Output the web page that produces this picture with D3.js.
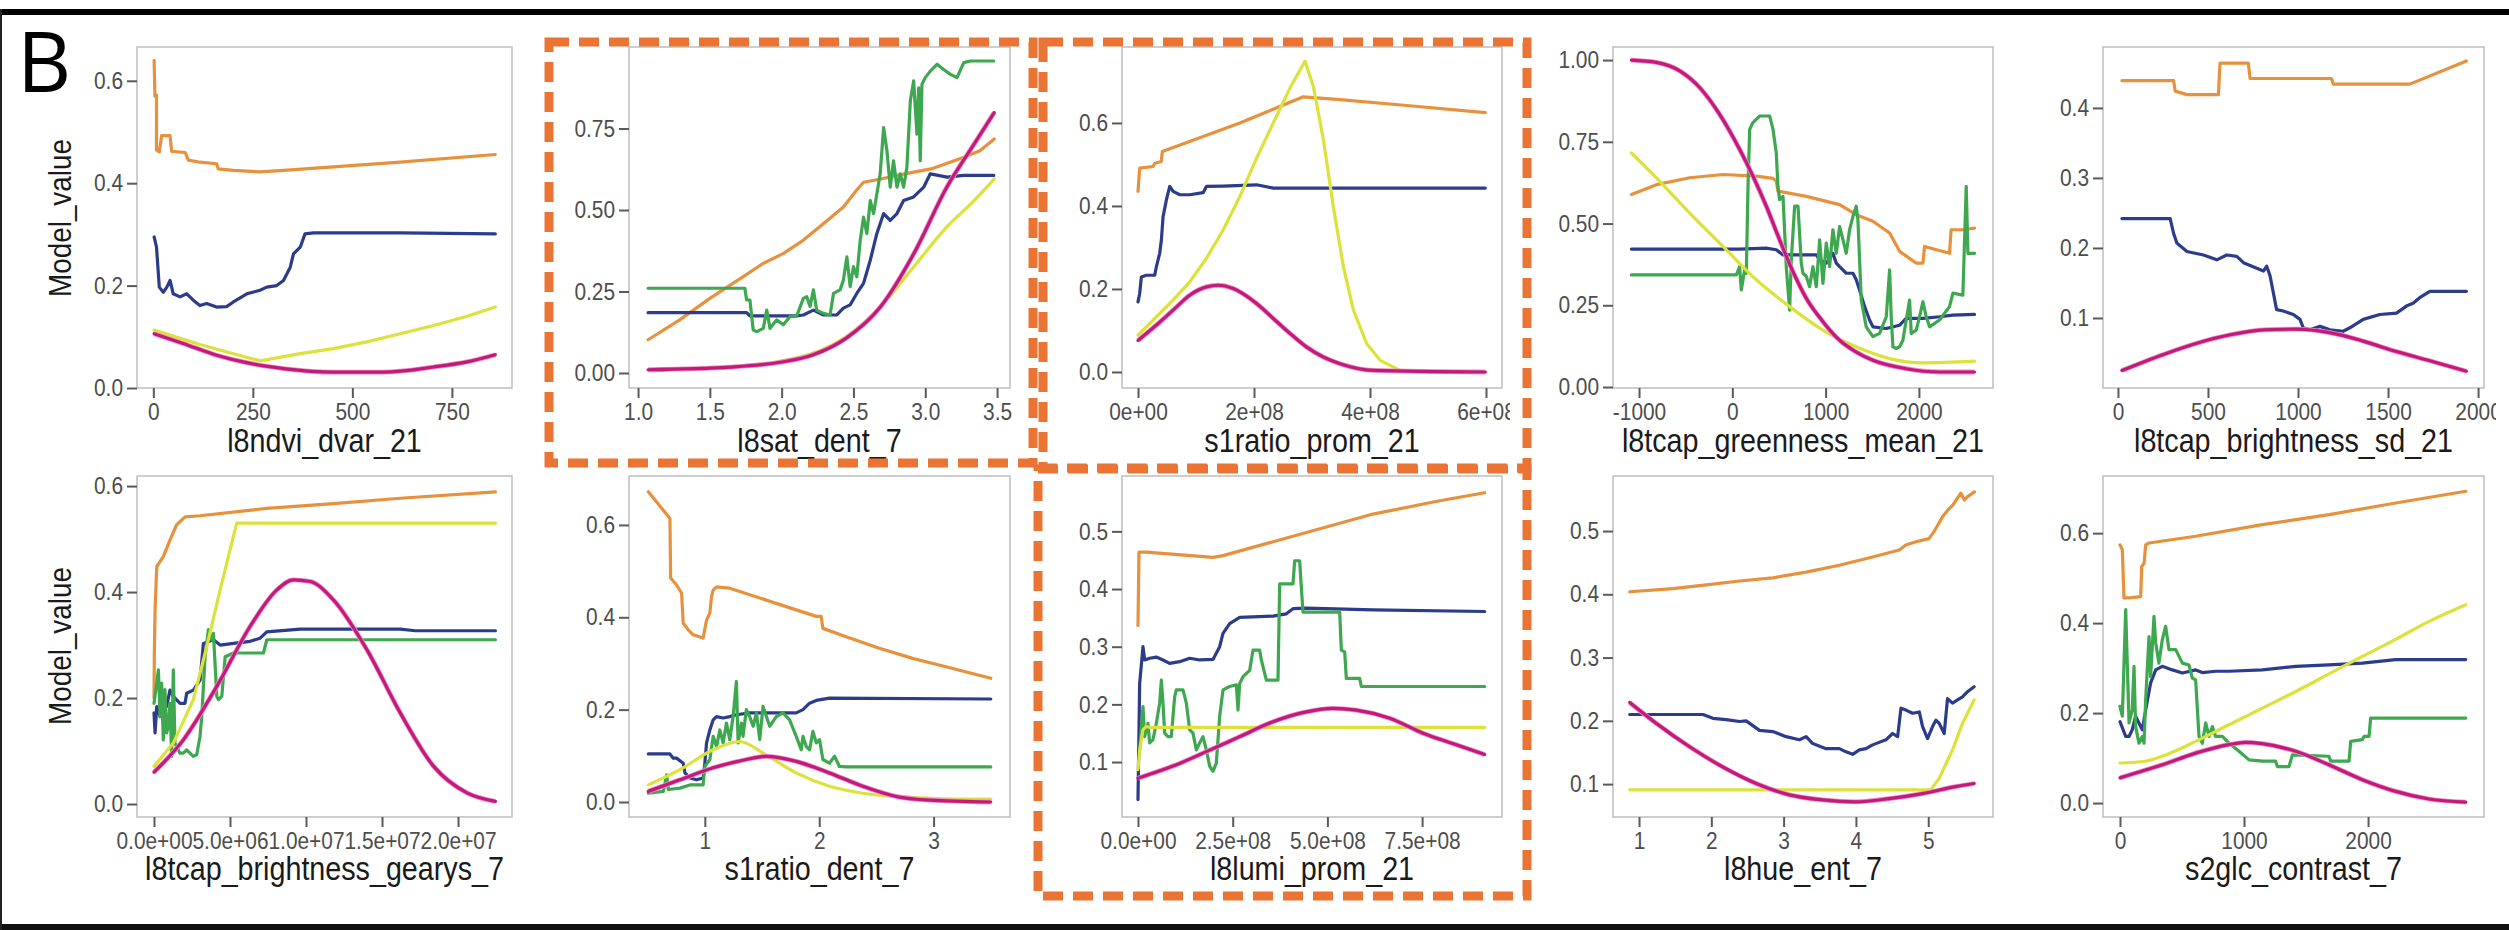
<!DOCTYPE html>
<html><head><meta charset="utf-8">
<script src="https://cdn.jsdelivr.net/npm/d3@7"></script>
<style>html,body{margin:0;padding:0;background:#fff;} svg{display:block;}</style>
</head><body><svg id="chart" width="2509" height="930"></svg>
<script>
// ---------------- data ----------------
const panelTitles = ["l8ndvi_dvar_21","l8sat_dent_7","s1ratio_prom_21","l8tcap_greenness_mean_21","l8tcap_brightness_sd_21",
  "l8tcap_brightness_gearys_7","s1ratio_dent_7","l8lumi_prom_21","l8hue_ent_7","s2glc_contrast_7"];

const xTickVals = [[0,250,500,750],[1.0,1.5,2.0,2.5,3.0,3.5],[0,2e8,4e8,6e8],[-1000,0,1000,2000],[0,500,1000,1500,2000],
  [0,5e6,1e7,1.5e7,2e7],[1,2,3],[0,2.5e8,5e8,7.5e8],[1,2,3,4,5],[0,1000,2000]];
const xTickLabels = [["0","250","500","750"],["1.0","1.5","2.0","2.5","3.0","3.5"],["0e+00","2e+08","4e+08","6e+08"],
  ["-1000","0","1000","2000"],["0","500","1000","1500","2000"],
  ["0.0e+00","5.0e+06","1.0e+07","1.5e+07","2.0e+07"],["1","2","3"],["0.0e+00","2.5e+08","5.0e+08","7.5e+08"],
  ["1","2","3","4","5"],["0","1000","2000"]];
const yTickVals = [[0,0.2,0.4,0.6],[0,0.25,0.5,0.75],[0,0.2,0.4,0.6],[0,0.25,0.5,0.75,1.0],[0.1,0.2,0.3,0.4],
  [0,0.2,0.4,0.6],[0,0.2,0.4,0.6],[0.1,0.2,0.3,0.4,0.5],[0.1,0.2,0.3,0.4,0.5],[0,0.2,0.4,0.6]];
const yTickLabels = [["0.0","0.2","0.4","0.6"],["0.00","0.25","0.50","0.75"],["0.0","0.2","0.4","0.6"],
  ["0.00","0.25","0.50","0.75","1.00"],["0.1","0.2","0.3","0.4"],["0.0","0.2","0.4","0.6"],["0.0","0.2","0.4","0.6"],
  ["0.1","0.2","0.3","0.4","0.5"],["0.1","0.2","0.3","0.4","0.5"],["0.0","0.2","0.4","0.6"]];
const xDomains = [[-41,901],[0.937,3.59],[-0.276e8,6.276e8],[-1279,2794],[-83,2033],
  [-1.118e6,23.55e6],[0.337,3.668],[-0.422e8,9.609e8],[0.64,5.896],[-137,2935]];
const yDomains = [[0,0.666],[-0.046,1.0],[-0.0386,0.783],[-0.003,1.04],[0,0.487],
  [-0.0245,0.619],[-0.0325,0.706],[0.0047,0.596],[0.048,0.587],[-0.031,0.727]];

// Panel 1
const p1_orange = [[2,0.64],[4,0.57],[8,0.572],[8,0.465],[15,0.461],[21,0.493],[42,0.493],[46,0.462],[80,0.46],[88,0.445],[117,0.441],[159,0.438],[163,0.428],[201,0.425],[268,0.422],[327,0.425],[452,0.432],[620,0.441],[859,0.456]];
const p1_blue = [[2,0.295],[8,0.275],[15,0.197],[25,0.187],[34,0.197],[42,0.21],[50,0.184],[67,0.178],[84,0.184],[101,0.171],[117,0.161],[134,0.165],[159,0.158],[184,0.159],[201,0.168],[235,0.184],[268,0.191],[285,0.197],[310,0.2],[327,0.21],[344,0.236],[352,0.262],[369,0.275],[381,0.301],[402,0.303],[452,0.303],[620,0.303],[859,0.301]];
const p1_yellow = [[2,0.113],[117,0.085],[201,0.067],[268,0.053],[369,0.067],[452,0.077],[536,0.09],[620,0.106],[704,0.122],[788,0.14],[859,0.158]];
const p1_magenta = [[2,0.106],[75,0.087],[159,0.064],[243,0.048],[327,0.038],[452,0.031],[578,0.031],[704,0.041],[788,0.051],[859,0.065]];
// Panel 2
const p2_orange = [[1.07,0.102],[1.29,0.163],[1.50,0.229],[1.73,0.295],[1.87,0.336],[2.01,0.366],[2.15,0.407],[2.29,0.458],[2.43,0.509],[2.52,0.56],[2.57,0.585],[2.69,0.595],[2.80,0.606],[3.04,0.626],[3.27,0.662],[3.38,0.682],[3.48,0.718]];
const p2_blue = [[1.07,0.185],[1.756,0.185],[1.779,0.175],[1.872,0.175],[2.105,0.175],[2.151,0.178],[2.221,0.193],[2.291,0.178],[2.384,0.178],[2.43,0.199],[2.477,0.209],[2.523,0.244],[2.57,0.275],[2.617,0.346],[2.663,0.428],[2.71,0.489],[2.756,0.468],[2.803,0.489],[2.849,0.529],[2.919,0.54],[2.989,0.57],[3.035,0.611],[3.152,0.601],[3.268,0.606],[3.477,0.606]];
const p2_green = [[1.07,0.26],[1.744,0.26],[1.756,0.224],[1.779,0.224],[1.802,0.132],[1.826,0.127],[1.872,0.137],[1.896,0.193],[1.919,0.137],[1.965,0.163],[2.012,0.148],[2.058,0.173],[2.105,0.175],[2.151,0.229],[2.175,0.234],[2.198,0.204],[2.221,0.255],[2.244,0.193],[2.291,0.183],[2.337,0.178],[2.361,0.244],[2.407,0.255],[2.43,0.285],[2.454,0.356],[2.477,0.265],[2.5,0.326],[2.523,0.295],[2.547,0.407],[2.57,0.478],[2.593,0.428],[2.617,0.529],[2.64,0.489],[2.686,0.611],[2.71,0.753],[2.733,0.682],[2.756,0.57],[2.779,0.651],[2.803,0.57],[2.826,0.611],[2.849,0.57],[2.872,0.631],[2.896,0.835],[2.919,0.896],[2.942,0.733],[2.954,0.875],[2.965,0.651],[2.977,0.886],[3.0,0.906],[3.035,0.926],[3.082,0.947],[3.128,0.931],[3.175,0.916],[3.221,0.906],[3.268,0.952],[3.314,0.957],[3.477,0.957]];
const p2_yellow = [[1.07,0.01],[1.64,0.02],[1.99,0.036],[2.22,0.061],[2.45,0.112],[2.69,0.204],[2.92,0.326],[3.15,0.448],[3.34,0.529],[3.48,0.595]];
const p2_magenta = [[1.07,0.01],[1.64,0.018],[1.99,0.033],[2.22,0.056],[2.45,0.107],[2.69,0.204],[2.92,0.366],[3.15,0.57],[3.34,0.702],[3.48,0.799]];
// Panel 3
const p3_orange = [[0,0.435],[0.029e8,0.491],[0.26e8,0.495],[0.29e8,0.503],[0.40e8,0.507],[0.42e8,0.531],[0.49e8,0.535],[1.756e8,0.6],[2.85e8,0.663],[3.484e8,0.656],[4.635e8,0.642],[5.988e8,0.625]];
const p3_blue = [[0,0.169],[0.029e8,0.189],[0.058e8,0.229],[0.144e8,0.233],[0.288e8,0.233],[0.317e8,0.254],[0.374e8,0.286],[0.403e8,0.318],[0.432e8,0.374],[0.49e8,0.415],[0.547e8,0.447],[0.605e8,0.435],[0.72e8,0.427],[0.892e8,0.427],[1.123e8,0.432],[1.18e8,0.447],[1.468e8,0.448],[2.044e8,0.451],[2.332e8,0.443],[5.988e8,0.443]];
const p3_yellow = [[0,0.089],[0.605e8,0.173],[0.892e8,0.217],[1.18e8,0.274],[1.468e8,0.342],[1.756e8,0.423],[2.044e8,0.515],[2.332e8,0.6],[2.62e8,0.684],[2.879e8,0.749],[3.023e8,0.688],[3.196e8,0.56],[3.368e8,0.398],[3.541e8,0.254],[3.714e8,0.149],[3.944e8,0.068],[4.175e8,0.028],[4.52e8,0.004],[5.988e8,0.0]];
const p3_magenta = [[0,0.076],[0.317e8,0.113],[0.605e8,0.149],[0.892e8,0.185],[1.18e8,0.205],[1.382e8,0.209],[1.641e8,0.201],[2.044e8,0.165],[2.332e8,0.129],[2.62e8,0.093],[2.908e8,0.06],[3.196e8,0.036],[3.484e8,0.02],[4.06e8,0.004],[5.988e8,0.0]];
// Panel 4
const p4_orange = [[-1082,0.589],[-814,0.619],[-457,0.64],[-100,0.65],[257,0.645],[436,0.638],[471,0.63],[489,0.599],[793,0.583],[1150,0.558],[1328,0.527],[1507,0.507],[1686,0.471],[1793,0.415],[1971,0.379],[2043,0.379],[2060,0.43],[2328,0.409],[2345,0.481],[2471,0.481],[2596,0.486]];
const p4_blue = [[-1082,0.422],[78,0.422],[364,0.425],[471,0.42],[543,0.404],[900,0.404],[936,0.389],[1007,0.379],[1043,0.394],[1078,0.409],[1114,0.379],[1150,0.368],[1221,0.348],[1293,0.348],[1328,0.328],[1364,0.297],[1418,0.246],[1471,0.205],[1507,0.184],[1650,0.179],[1793,0.189],[1864,0.21],[2043,0.21],[2221,0.215],[2364,0.22],[2596,0.222]];
const p4_green = [[-1082,0.343],[43,0.343],[78,0.368],[96,0.297],[132,0.358],[150,0.348],[168,0.614],[186,0.788],[221,0.809],[293,0.829],[400,0.829],[436,0.788],[471,0.716],[489,0.614],[507,0.573],[543,0.583],[578,0.368],[614,0.235],[632,0.389],[668,0.553],[704,0.553],[739,0.379],[757,0.348],[793,0.338],[828,0.307],[864,0.368],[900,0.307],[936,0.45],[971,0.317],[1007,0.44],[1043,0.368],[1078,0.481],[1114,0.409],[1150,0.491],[1186,0.45],[1221,0.409],[1257,0.481],[1293,0.522],[1328,0.553],[1346,0.512],[1382,0.266],[1435,0.184],[1507,0.154],[1578,0.164],[1650,0.215],[1686,0.358],[1703,0.215],[1721,0.123],[1757,0.118],[1793,0.123],[1828,0.143],[1900,0.266],[1918,0.164],[1971,0.174],[2007,0.215],[2043,0.261],[2078,0.215],[2114,0.184],[2221,0.205],[2328,0.246],[2364,0.287],[2471,0.281],[2507,0.614],[2525,0.409],[2596,0.409]];
const p4_yellow = [[-1082,0.716],[-814,0.64],[-457,0.532],[-100,0.43],[257,0.328],[614,0.246],[971,0.174],[1328,0.123],[1686,0.087],[2043,0.074],[2596,0.079]];
const p4_magenta = [[-1082,1.0],[-814,0.993],[-564,0.967],[-350,0.916],[-136,0.834],[78,0.727],[221,0.645],[364,0.553],[507,0.45],[650,0.353],[793,0.271],[971,0.2],[1150,0.143],[1328,0.107],[1507,0.082],[1864,0.056],[2221,0.046],[2596,0.046]];
// Panel 5
const p5_orange = [[22,0.439],[309,0.439],[318,0.424],[383,0.419],[558,0.419],[567,0.464],[724,0.464],[734,0.442],[1186,0.442],[1196,0.434],[1621,0.434],[1935,0.467]];
const p5_blue = [[22,0.242],[290,0.242],[309,0.221],[327,0.207],[383,0.195],[475,0.19],[549,0.183],[604,0.19],[660,0.188],[697,0.179],[771,0.171],[808,0.167],[826,0.174],[845,0.16],[863,0.136],[881,0.112],[918,0.11],[974,0.105],[1011,0.098],[1029,0.086],[1066,0.083],[1122,0.088],[1177,0.083],[1251,0.081],[1288,0.086],[1362,0.098],[1454,0.105],[1547,0.107],[1602,0.117],[1639,0.121],[1676,0.129],[1732,0.138],[1935,0.138]];
const p5_magenta = [[22,0.025],[253,0.048],[438,0.064],[623,0.076],[808,0.083],[992,0.084],[1177,0.079],[1362,0.067],[1547,0.052],[1732,0.039],[1935,0.024]];
// Panel 6
const p6_orange = [[0,0.2],[0.002e7,0.278],[0.007e7,0.366],[0.018e7,0.448],[0.061e7,0.467],[0.105e7,0.498],[0.149e7,0.527],[0.204e7,0.542],[0.303e7,0.544],[0.742e7,0.558],[1.181e7,0.567],[1.62e7,0.577],[2.246e7,0.589]];
const p6_blue = [[0,0.172],[0.007e7,0.134],[0.018e7,0.184],[0.04e7,0.165],[0.061e7,0.19],[0.083e7,0.184],[0.105e7,0.215],[0.127e7,0.203],[0.171e7,0.19],[0.204e7,0.19],[0.215e7,0.209],[0.259e7,0.215],[0.303e7,0.234],[0.325e7,0.303],[0.391e7,0.31],[0.435e7,0.3],[0.523e7,0.303],[0.632e7,0.307],[0.698e7,0.313],[0.742e7,0.325],[0.962e7,0.33],[1.62e7,0.33],[1.719e7,0.327],[2.246e7,0.327]];
const p6_green = [[0,0.19],[0.018e7,0.228],[0.029e7,0.253],[0.04e7,0.165],[0.05e7,0.228],[0.061e7,0.121],[0.072e7,0.216],[0.083e7,0.134],[0.094e7,0.146],[0.105e7,0.19],[0.116e7,0.09],[0.127e7,0.253],[0.138e7,0.115],[0.16e7,0.102],[0.171e7,0.096],[0.193e7,0.096],[0.215e7,0.102],[0.237e7,0.096],[0.259e7,0.09],[0.281e7,0.093],[0.303e7,0.128],[0.314e7,0.165],[0.336e7,0.278],[0.358e7,0.329],[0.38e7,0.31],[0.391e7,0.322],[0.413e7,0.203],[0.424e7,0.197],[0.446e7,0.203],[0.468e7,0.278],[0.523e7,0.285],[0.72e7,0.285],[0.742e7,0.31],[2.246e7,0.31]];
const p6_yellow = [[0,0.071],[0.127e7,0.115],[0.259e7,0.197],[0.347e7,0.297],[0.435e7,0.404],[0.544e7,0.53],[2.246e7,0.53]];
const p6_magenta = [[0,0.06],[0.193e7,0.121],[0.413e7,0.222],[0.632e7,0.335],[0.808e7,0.404],[0.918e7,0.423],[1.027e7,0.42],[1.181e7,0.385],[1.401e7,0.291],[1.62e7,0.172],[1.84e7,0.071],[2.059e7,0.021],[2.246e7,0.005]];
// Panel 7
const p7_orange = [[0.506,0.672],[0.695,0.614],[0.701,0.485],[0.753,0.47],[0.797,0.452],[0.811,0.387],[0.855,0.373],[0.898,0.362],[0.985,0.355],[1.015,0.394],[1.044,0.409],[1.058,0.445],[1.073,0.459],[1.102,0.466],[1.218,0.463],[1.974,0.402],[2.017,0.402],[2.032,0.376],[2.235,0.358],[2.526,0.333],[2.817,0.311],[3.108,0.293],[3.5,0.268]];
const p7_blue = [[0.506,0.104],[0.695,0.104],[0.724,0.095],[0.753,0.095],[0.811,0.084],[0.826,0.063],[0.869,0.052],[0.927,0.048],[0.985,0.052],[1.0,0.084],[1.015,0.128],[1.044,0.156],[1.073,0.178],[1.102,0.185],[1.16,0.182],[1.218,0.185],[1.276,0.189],[1.392,0.193],[1.509,0.193],[1.799,0.193],[1.858,0.2],[1.916,0.214],[1.974,0.22],[2.09,0.225],[3.5,0.223]];
const p7_green = [[0.506,0.019],[0.637,0.023],[0.666,0.059],[0.68,0.027],[0.782,0.03],[0.869,0.037],[0.985,0.037],[1.0,0.077],[1.044,0.092],[1.073,0.142],[1.102,0.12],[1.131,0.156],[1.16,0.128],[1.189,0.171],[1.218,0.135],[1.247,0.185],[1.276,0.261],[1.291,0.128],[1.32,0.171],[1.334,0.142],[1.363,0.2],[1.392,0.185],[1.422,0.164],[1.451,0.193],[1.48,0.135],[1.509,0.207],[1.567,0.164],[1.625,0.185],[1.683,0.193],[1.741,0.178],[1.799,0.142],[1.843,0.113],[1.858,0.142],[1.887,0.12],[1.916,0.113],[1.945,0.153],[1.974,0.128],[2.003,0.135],[2.032,0.092],[2.09,0.084],[2.134,0.099],[2.177,0.077],[2.235,0.076],[3.5,0.076]];
const p7_yellow = [[0.506,0.037],[0.782,0.07],[1.073,0.113],[1.305,0.131],[1.509,0.106],[1.799,0.063],[2.09,0.034],[2.381,0.019],[2.672,0.012],[3.108,0.007],[3.5,0.006]];
const p7_magenta = [[0.506,0.023],[0.782,0.048],[1.073,0.074],[1.363,0.092],[1.538,0.099],[1.799,0.088],[2.09,0.063],[2.381,0.034],[2.672,0.012],[2.963,0.004],[3.5,0.0]];
// Panel 8
const p8_orange = [[0,0.337],[0.026e8,0.464],[0.22e8,0.464],[1.98e8,0.455],[2.244e8,0.458],[4.444e8,0.498],[6.204e8,0.53],[7.964e8,0.553],[9.152e8,0.567]];
const p8_blue = [[0,0.035],[0.044e8,0.236],[0.132e8,0.3],[0.176e8,0.277],[0.308e8,0.28],[0.484e8,0.282],[0.66e8,0.277],[0.836e8,0.271],[1.1e8,0.274],[1.364e8,0.28],[1.628e8,0.277],[1.98e8,0.278],[2.156e8,0.3],[2.244e8,0.323],[2.42e8,0.34],[2.684e8,0.351],[3.564e8,0.353],[3.916e8,0.357],[4.092e8,0.366],[4.444e8,0.367],[6.204e8,0.364],[9.152e8,0.361]];
const p8_green = [[0.044e8,0.121],[0.132e8,0.196],[0.176e8,0.144],[0.264e8,0.167],[0.308e8,0.133],[0.396e8,0.139],[0.484e8,0.167],[0.572e8,0.202],[0.616e8,0.242],[0.66e8,0.202],[0.704e8,0.15],[0.792e8,0.144],[0.88e8,0.144],[0.924e8,0.179],[0.968e8,0.213],[1.012e8,0.225],[1.188e8,0.225],[1.276e8,0.202],[1.364e8,0.156],[1.452e8,0.15],[1.54e8,0.121],[1.628e8,0.133],[1.716e8,0.144],[1.804e8,0.121],[1.892e8,0.093],[1.98e8,0.084],[2.068e8,0.098],[2.156e8,0.179],[2.244e8,0.225],[2.42e8,0.231],[2.596e8,0.234],[2.64e8,0.19],[2.684e8,0.236],[2.772e8,0.248],[2.948e8,0.259],[3.036e8,0.294],[3.212e8,0.294],[3.256e8,0.277],[3.388e8,0.242],[3.696e8,0.242],[3.74e8,0.409],[4.092e8,0.409],[4.136e8,0.449],[4.268e8,0.449],[4.312e8,0.403],[4.356e8,0.36],[5.324e8,0.36],[5.368e8,0.294],[5.456e8,0.291],[5.5e8,0.245],[5.852e8,0.245],[5.896e8,0.231],[9.152e8,0.231]];
const p8_yellow = [[0,0.087],[0.044e8,0.121],[0.132e8,0.156],[0.22e8,0.162],[0.308e8,0.16],[9.152e8,0.16]];
const p8_magenta = [[0,0.072],[0.924e8,0.093],[1.804e8,0.118],[2.684e8,0.144],[3.564e8,0.17],[4.444e8,0.187],[5.148e8,0.193],[5.764e8,0.19],[6.644e8,0.176],[7.524e8,0.15],[8.404e8,0.13],[9.152e8,0.113]];
// Panel 9
const p9_orange = [[0.871,0.404],[1.47,0.409],[1.93,0.415],[2.39,0.421],[2.85,0.426],[3.31,0.435],[3.77,0.446],[4.23,0.459],[4.6,0.47],[4.69,0.478],[4.83,0.483],[5.01,0.488],[5.08,0.499],[5.2,0.523],[5.27,0.533],[5.34,0.541],[5.45,0.56],[5.5,0.549],[5.54,0.554],[5.64,0.562]];
const p9_blue = [[0.871,0.21],[1.884,0.21],[2.022,0.204],[2.206,0.202],[2.39,0.199],[2.482,0.2],[2.666,0.185],[2.85,0.183],[3.035,0.175],[3.219,0.17],[3.311,0.175],[3.403,0.164],[3.587,0.156],[3.771,0.156],[3.863,0.151],[3.955,0.147],[4.047,0.154],[4.139,0.156],[4.231,0.162],[4.415,0.17],[4.507,0.18],[4.577,0.175],[4.623,0.22],[4.692,0.217],[4.784,0.212],[4.876,0.214],[4.922,0.191],[4.991,0.172],[5.06,0.191],[5.106,0.201],[5.152,0.196],[5.221,0.18],[5.267,0.235],[5.336,0.228],[5.405,0.233],[5.474,0.238],[5.543,0.246],[5.635,0.254]];
const p9_yellow = [[0.871,0.091],[5.037,0.091],[5.152,0.109],[5.336,0.154],[5.474,0.196],[5.635,0.233]];
const p9_magenta = [[0.871,0.229],[1.239,0.196],[1.7,0.159],[2.16,0.127],[2.62,0.101],[3.08,0.083],[3.54,0.075],[4.0,0.072],[4.46,0.077],[4.92,0.085],[5.38,0.096],[5.635,0.101]];
// Panel 10
const p10_orange = [[0,0.574],[19,0.563],[32,0.456],[73,0.456],[167,0.459],[175,0.526],[194,0.533],[207,0.574],[234,0.578],[610,0.593],[1148,0.619],[1685,0.641],[2223,0.667],[2788,0.693]];
const p10_blue = [[0,0.181],[46,0.148],[73,0.148],[99,0.163],[126,0.193],[153,0.178],[180,0.163],[207,0.207],[247,0.267],[288,0.296],[341,0.304],[422,0.296],[503,0.289],[610,0.296],[664,0.29],[771,0.293],[879,0.293],[1148,0.296],[1417,0.304],[1685,0.307],[1954,0.311],[2223,0.319],[2788,0.319]];
const p10_green = [[0,0.215],[19,0.193],[46,0.43],[73,0.178],[99,0.207],[113,0.304],[126,0.17],[153,0.133],[180,0.148],[194,0.133],[207,0.23],[234,0.37],[247,0.281],[274,0.415],[288,0.356],[314,0.311],[341,0.363],[368,0.393],[395,0.341],[449,0.341],[503,0.311],[556,0.307],[583,0.278],[610,0.274],[637,0.148],[664,0.133],[691,0.178],[718,0.148],[745,0.17],[771,0.148],[825,0.148],[879,0.133],[960,0.115],[1040,0.096],[1148,0.093],[1255,0.093],[1269,0.081],[1363,0.081],[1390,0.107],[1685,0.104],[1699,0.093],[1847,0.093],[1860,0.137],[1954,0.141],[1968,0.148],[2008,0.148],[2021,0.189],[2788,0.189]];
const p10_yellow = [[0,0.089],[207,0.093],[341,0.104],[610,0.137],[879,0.174],[1148,0.211],[1417,0.248],[1685,0.287],[1954,0.326],[2223,0.364],[2492,0.404],[2788,0.441]];
const p10_magenta = [[0,0.056],[341,0.085],[610,0.111],[879,0.13],[1013,0.135],[1148,0.132],[1417,0.115],[1685,0.085],[1954,0.052],[2223,0.026],[2492,0.009],[2788,0.002]];

const panelSeries = [
  {orange:p1_orange, blue:p1_blue, yellow:p1_yellow, magenta:p1_magenta},
  {orange:p2_orange, blue:p2_blue, green:p2_green, yellow:p2_yellow, magenta:p2_magenta},
  {orange:p3_orange, blue:p3_blue, yellow:p3_yellow, magenta:p3_magenta},
  {orange:p4_orange, blue:p4_blue, green:p4_green, yellow:p4_yellow, magenta:p4_magenta},
  {orange:p5_orange, blue:p5_blue, magenta:p5_magenta},
  {orange:p6_orange, blue:p6_blue, green:p6_green, yellow:p6_yellow, magenta:p6_magenta},
  {orange:p7_orange, blue:p7_blue, green:p7_green, yellow:p7_yellow, magenta:p7_magenta},
  {orange:p8_orange, blue:p8_blue, green:p8_green, yellow:p8_yellow, magenta:p8_magenta},
  {orange:p9_orange, blue:p9_blue, yellow:p9_yellow, magenta:p9_magenta},
  {orange:p10_orange, blue:p10_blue, green:p10_green, yellow:p10_yellow, magenta:p10_magenta}
];
const seriesOrder = ["orange","blue","green","yellow","magenta"];
const seriesColors = {orange:"#E8913C", blue:"#2C3C8C", green:"#3DA84F", yellow:"#DCE23A", magenta:"#C11A7B"};
// panels (0-based) whose yellow curve is smooth; the others have a kink/peak
const smoothYellowPanels = [1, 3, 6, 9];

// ---------------- layout ----------------
const colLeft = [137, 629, 1122, 1613, 2103];
const colRight = [512, 1010, 1502, 1993, 2484];
const rowTop = [47, 476];
const rowBottom = [388, 817];
const labelClipRight = [540, 1030, 1510, 2030, 2496, 540, 1030, 1510, 2030, 2496];
const FONT = "'Liberation Sans', Arial, Helvetica, sans-serif";
const SX = 0.87;

const svg = d3.select("#chart");
svg.append("rect").attr("width", 2509).attr("height", 930).attr("fill", "#fff");
const defs = svg.append("defs");

for (let i = 0; i < 10; i++) {
  const r = Math.floor(i / 5), c = i % 5;
  const x0 = colLeft[c], x1 = colRight[c], y0 = rowTop[r], y1 = rowBottom[r];
  const xs = d3.scaleLinear().domain(xDomains[i]).range([x0, x1]);
  const ys = d3.scaleLinear().domain(yDomains[i]).range([y1, y0]);
  const g = svg.append("g");

  g.append("rect").attr("x", x0).attr("y", y0).attr("width", x1 - x0).attr("height", y1 - y0)
    .attr("fill", "#fff").attr("stroke", "#c2c2c2").attr("stroke-width", 1.6);

  defs.append("clipPath").attr("id", "lab" + i).append("rect")
    .attr("x", x0 - 200).attr("y", 0).attr("width", labelClipRight[i] - (x0 - 200)).attr("height", 930);

  const xa = g.append("g").attr("transform", `translate(0,${y1})`).attr("clip-path", `url(#lab${i})`)
    .call(d3.axisBottom(xs).tickValues(xTickVals[i]).tickFormat((d, j) => xTickLabels[i][j]).tickSize(10).tickPadding(5));
  const ya = g.append("g").attr("transform", `translate(${x0},0)`)
    .call(d3.axisLeft(ys).tickValues(yTickVals[i]).tickFormat((d, j) => yTickLabels[i][j]).tickSize(10).tickPadding(4));
  [xa, ya].forEach(a => {
    a.select(".domain").remove();
    a.selectAll("line").attr("stroke", "#5a5a5a").attr("stroke-width", 2);
    a.selectAll("text").attr("fill", "#4d4d4d").style("font-family", FONT).style("font-size", "24px")
      .attr("transform", `scale(${SX},1)`);
  });
  ya.selectAll("text").attr("x", -14 / SX);

  seriesOrder.forEach(k => {
    const data = panelSeries[i][k];
    if (!data) return;
    const smooth = k === "magenta" || (k === "yellow" && smoothYellowPanels.includes(i));
    const line = d3.line().x(d => xs(d[0])).y(d => ys(d[1]))
      .curve(smooth ? d3.curveMonotoneX : d3.curveLinear);
    if (k === "magenta") {
      g.append("path").datum(data).attr("d", line).attr("fill", "none")
        .attr("stroke", "#F08CC6").attr("stroke-width", 4.8).attr("stroke-linejoin", "round");
    }
    g.append("path").datum(data).attr("d", line).attr("fill", "none")
      .attr("stroke", seriesColors[k]).attr("stroke-width", 3.2).attr("stroke-linejoin", "round").attr("stroke-linecap", "round");
  });

  g.append("text").attr("transform", `translate(${(x0 + x1) / 2},${r === 0 ? 452 : 880}) scale(${SX},1)`)
    .attr("text-anchor", "middle").attr("fill", "#1a1a1a")
    .style("font-family", FONT).style("font-size", "33px").text(panelTitles[i]);

  if (c === 0) {
    g.append("text").attr("transform", `translate(71,${r === 0 ? 218 : 646}) rotate(-90) scale(${SX},1)`)
      .attr("text-anchor", "middle").attr("fill", "#1a1a1a")
      .style("font-family", FONT).style("font-size", "32px").text("Model_value");
  }
}

// panel letter
svg.append("text").attr("x", 17).attr("y", 92).attr("fill", "#000")
  .style("font-family", "'Open Sans', 'Liberation Sans', sans-serif").style("font-size", "84px").text("B");

// frame lines
svg.append("rect").attr("x", 0).attr("y", 9).attr("width", 2509).attr("height", 6).attr("fill", "#000");
svg.append("rect").attr("x", 0).attr("y", 924).attr("width", 2509).attr("height", 6).attr("fill", "#111");
svg.append("rect").attr("x", 0).attr("y", 9).attr("width", 2).attr("height", 921).attr("fill", "#222");

// highlight boxes
const boxes = [[549, 42, 1033, 463], [1043, 42, 1527, 468], [1038, 469, 1527, 896]];
boxes.forEach(b => {
  svg.append("rect").attr("x", b[0]).attr("y", b[1]).attr("width", b[2] - b[0]).attr("height", b[3] - b[1])
    .attr("fill", "none").attr("stroke", "#EA7434").attr("stroke-width", 9).attr("stroke-dasharray", "20,10");
});
</script>
</body></html>
